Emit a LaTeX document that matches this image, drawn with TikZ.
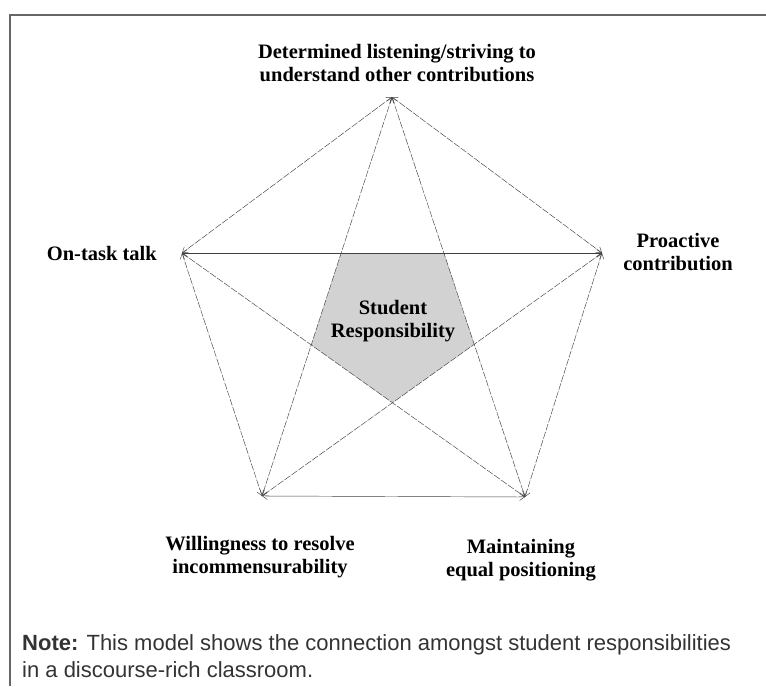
\documentclass[tikz,border=0pt]{standalone}
\usepackage{fontspec}
\setmainfont{Liberation Serif}
\setsansfont{Liberation Sans}
\usetikzlibrary{arrows.meta}
\begin{document}
\begin{tikzpicture}[x=1pt,y=-1pt,
  >={Straight Barb[length=5pt,width=7pt]},
  link/.style={<->,draw=black!75,line width=0.45pt,dash pattern=on 7pt off 1.5pt},
  solid link/.style={<->,draw=black!75,line width=0.45pt},
  resp node/.style={font=\bfseries\fontsize{20.5}{23}\selectfont,align=center,inner sep=0pt}]
  \useasboundingbox (0,0) rectangle (766,686);
  \draw[black!60,line width=1.6pt] (10,686) -- (10,15) -- (766,15);
  % corners of the pentagon
  \coordinate (top) at (392,97);
  \coordinate (left) at (182,253);
  \coordinate (right) at (602,253);
  \coordinate (bl) at (262,496);
  \coordinate (br) at (525,497);
  % shaded centre
  \fill[gray!35] (intersection of top--bl and left--right)
    -- (intersection of top--br and left--right)
    -- (intersection of top--br and right--bl)
    -- (intersection of left--br and right--bl)
    -- (intersection of left--br and top--bl) -- cycle;
  \node[resp node] (centre) at (393,321) {Student\\Responsibility};
  % every pair is linked
  \draw[link] (top) -- (left);
  \draw[link] (top) -- (right);
  \draw[link] (top) -- (bl);
  \draw[link] (top) -- (br);
  \draw[solid link] (left) -- (right);
  \draw[link] (left) -- (bl);
  \draw[link] (left) -- (br);
  \draw[link] (right) -- (bl);
  \draw[link] (right) -- (br);
  \draw[solid link] (bl) -- (br);
  % labels
  \node[resp node] (listen) at (397,63) {Determined listening/striving to\\understand other contributions};
  \node[resp node,anchor=base east] (ontask) at (157,260) {On-task talk};
  \node[resp node] (proactive) at (678,252) {Proactive\\contribution};
  \node[resp node] (resolve) at (260,557) {Willingness to resolve\\incommensurability};
  \node[resp node] (equal) at (521,560) {Maintaining\\equal positioning};
  \node[anchor=north west,align=left,inner sep=0pt,text=black!80,
    font=\sffamily\fontsize{22}{27}\selectfont] (note) at (22,634)
    {\textbf{Note:} This model shows the connection amongst student responsibilities\\in a discourse-rich classroom.};
\end{tikzpicture}
\end{document}
